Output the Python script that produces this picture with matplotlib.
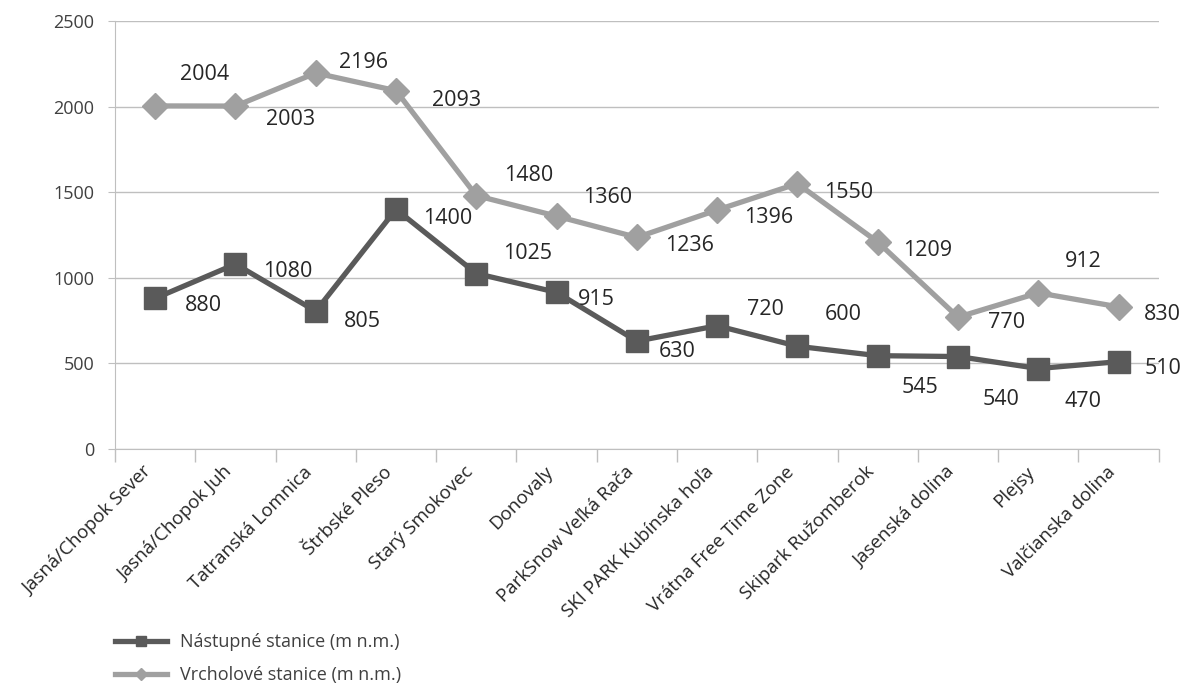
import numpy as np
import matplotlib
matplotlib.use('Agg')
import matplotlib.pyplot as plt

resorts = ['Jasná/Chopok Sever', 'Jasná/Chopok Juh', 'Tatranská Lomnica', 'Štrbské Pleso',
           'Starý Smokovec', 'Donovaly', 'ParkSnow Veľká Rača', 'SKI PARK Kubínska hoľa',
           'Vrátna Free Time Zone', 'Skipark Ružomberok', 'Jasenská dolina', 'Plejsy',
           'Valčianska dolina']
bottom_station = [880, 1080, 805, 1400, 1025, 915, 630, 720, 600, 545, 540, 470, 510]
top_station = [2004, 2003, 2196, 2093, 1480, 1360, 1236, 1396, 1550, 1209, 770, 912, 830]

# label offsets in pixels (dx right, dy up), as placed in the original chart
bottom_offsets = [(48, -7), (52, -7), (47, -10), (52, -9), (51, 20), (40, -7), (40, -10),
                  (48, 16), (46, 32), (42, -32), (43, -43), (45, -33), (44, -7)]
top_offsets = [(49, 31), (55, -13), (48, 11), (61, -10), (52, 20), (51, 19), (53, -8),
               (51, -8), (51, -9), (50, -8), (49, -5), (45, 31), (44, -8)]

plt.rcParams['font.family'] = ['Open Sans', 'DejaVu Sans']

fig = plt.figure(figsize=(11.86, 6.84), dpi=100)
ax = fig.add_axes([0.097, 0.3436, 0.88, 0.6257])

x = np.arange(len(resorts))
dark = '#5a5a5a'
light = '#a0a0a0'

ax.plot(x, bottom_station, color=dark, linewidth=3.8, marker='s', markersize=16,
        label='Nástupné stanice (m n.m.)', zorder=3)
ax.plot(x, top_station, color=light, linewidth=3.8, marker='D', markersize=13,
        label='Vrcholové stanice (m n.m.)', zorder=3)

for values, offsets in [(bottom_station, bottom_offsets), (top_station, top_offsets)]:
    for xi, v, (dx, dy) in zip(x, values, offsets):
        ax.annotate(str(v), (xi, v), xytext=(dx * 0.72, dy * 0.72), textcoords='offset points',
                    ha='center', va='center', fontsize=15.5, color='#262626')

ax.set_xlim(-0.5, len(resorts) - 0.5)
ax.set_ylim(0, 2500)
ax.set_yticks(np.arange(0, 2501, 500))
ax.grid(axis='y', color='#bfbfbf', linewidth=1)
ax.set_axisbelow(True)

ax.set_xticks(x)
ax.set_xticklabels(resorts, rotation=45, ha='right', va='top', fontsize=13.5, color='#262626')
ax.set_xticks(np.arange(-0.5, len(resorts)), minor=True)
ax.tick_params(axis='x', which='major', length=0, pad=10)
ax.tick_params(axis='x', which='minor', length=9, color='#bfbfbf', width=1)
ax.tick_params(axis='y', length=5, color='#bfbfbf', labelsize=13, labelcolor='#404040', pad=10)

for side in ['top', 'right']:
    ax.spines[side].set_visible(False)
for side in ['left', 'bottom']:
    ax.spines[side].set_color('#bfbfbf')

fig.legend(loc='lower left', bbox_to_anchor=(0.083, -0.024), frameon=False, fontsize=13,
           labelspacing=0.83, handlelength=2.9, handletextpad=0.7, markerscale=0.45,
           labelcolor='#404040')

fig.savefig('out.png', dpi=100)
